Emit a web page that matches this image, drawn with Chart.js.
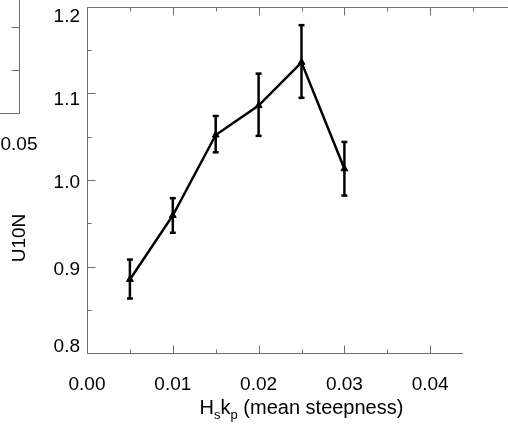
<!DOCTYPE html>
<html>
<head>
<meta charset="utf-8">
<script src="https://cdn.jsdelivr.net/npm/chart.js@4.4.1/dist/chart.umd.min.js"></script>
<style>
  html, body { margin: 0; padding: 0; background: #fff; overflow: hidden; }
  #wrap { position: relative; width: 508px; height: 431px; overflow: hidden; background: #fff; }
  #left { position: absolute; left: -497px; top: -67px; }
  #main { position: absolute; left: 0; top: 0; }
  #cover { position: absolute; left: 463px; top: 16px; width: 60px; height: 430px; background: #fff; }
</style>
</head>
<body>
<div id="wrap">
  <canvas id="left" width="560" height="258"></canvas>
  <canvas id="main" width="560" height="431"></canvas>
  <div id="cover"></div>
</div>
<script>
// ---- data ----
const steepness = [0.005, 0.010, 0.015, 0.020, 0.025, 0.030];
const u10n      = [0.885, 0.959, 1.052, 1.086, 1.136, 1.013];
const errLow    = [0.863, 0.939, 1.032, 1.051, 1.095, 0.982];
const errHigh   = [0.908, 0.979, 1.074, 1.123, 1.179, 1.044];
const xTickValues = [0.00, 0.01, 0.02, 0.03, 0.04, 0.05];
const yTickValues = [0.8, 0.9, 1.0, 1.1, 1.2];

const FONT = "'Liberation Sans', Arial, Helvetica, sans-serif";
const AXIS_COLOR = '#6e6e6e';
// vertical nudges of the y tick labels, as placed in the original figure
const yLabelNudge = [-6, 3, 3, 6, 10];

Chart.defaults.font.family = FONT;
Chart.defaults.color = '#000';

function line(ctx, x1, y1, x2, y2) {
  ctx.beginPath(); ctx.moveTo(x1, y1); ctx.lineTo(x2, y2); ctx.stroke();
}

const framePlugin = {
  id: 'frame',
  afterDraw(chart, args, o) {
    const ctx = chart.ctx, a = chart.chartArea;
    const xs = chart.scales.x, ys = chart.scales.y;
    ctx.save();
    ctx.strokeStyle = AXIS_COLOR;
    ctx.lineWidth = 1;
    const L = Math.round(a.left) + 0.5, R = Math.round(a.right) + 0.5;
    const T = Math.round(a.top) + 0.5, B = Math.round(a.bottom) + 0.5;
    ctx.beginPath(); ctx.rect(L, T, R - L, B - T); ctx.stroke();
    const nx = Math.round((xs.max - xs.min) / o.xMinor);
    for (let i = 0; i <= nx; i++) {
      const px = Math.round(xs.getPixelForValue(xs.min + i * o.xMinor)) + 0.5;
      const len = (i % o.xMajorEvery === 0) ? o.majorLen : o.minorLen;
      line(ctx, px, B, px, B - len);
      line(ctx, px, T, px, T + len);
    }
    const ny = Math.round((ys.max - ys.min) / o.yMinor);
    for (let i = 0; i <= ny; i++) {
      const py = Math.round(ys.getPixelForValue(ys.min + i * o.yMinor)) + 0.5;
      const len = (i % o.yMajorEvery === 0) ? o.majorLen : o.minorLen;
      line(ctx, L, py, L + len, py);
      line(ctx, R, py, R - len, py);
    }
    // y tick labels (drawn here so each can carry its own small nudge)
    if (o.yLabels) {
      ctx.fillStyle = '#000';
      ctx.font = '19px ' + FONT;
      ctx.textAlign = 'right';
      ctx.textBaseline = 'middle';
      o.yLabels.forEach((v, i) => {
        const py = ys.getPixelForValue(v) + (o.yNudge ? o.yNudge[i] : 0);
        ctx.fillText(v.toFixed(o.yDigits), a.left - 7, py);
      });
    }
    ctx.restore();
  }
};

const errorBarPlugin = {
  id: 'errbars',
  afterDatasetsDraw(chart) {
    const ctx = chart.ctx, xs = chart.scales.x, ys = chart.scales.y;
    ctx.save();
    ctx.strokeStyle = '#000';
    ctx.lineWidth = 2.5;
    for (let i = 0; i < steepness.length; i++) {
      const px = xs.getPixelForValue(steepness[i]);
      const y1 = ys.getPixelForValue(errLow[i]);
      const y2 = ys.getPixelForValue(errHigh[i]);
      line(ctx, px, y1, px, y2);
      line(ctx, px - 3, y1, px + 3, y1);
      line(ctx, px - 3, y2, px + 3, y2);
    }
    ctx.restore();
  }
};

const titlesPlugin = {
  id: 'titles',
  afterDraw(chart) {
    const ctx = chart.ctx, a = chart.chartArea;
    ctx.save();
    ctx.fillStyle = '#000';
    // x-axis title with subscripts: H_s k_p (mean steepness)
    const big = '20px ' + FONT, small = '13px ' + FONT;
    const parts = [['H', big, 0], ['s', small, 5], ['k', big, 0], ['p', small, 5], [' (mean steepness)', big, 0]];
    let total = 0;
    parts.forEach(p => { ctx.font = p[1]; total += ctx.measureText(p[0]).width; });
    let x = (a.left + a.right) / 2 - total / 2;
    const base = a.bottom + 61;
    ctx.textBaseline = 'alphabetic';
    ctx.textAlign = 'left';
    parts.forEach(p => { ctx.font = p[1]; ctx.fillText(p[0], x, base + p[2]); x += ctx.measureText(p[0]).width; });
    // y-axis title
    ctx.font = '19px ' + FONT;
    ctx.translate(a.left - 67, a.top + 231);
    ctx.rotate(-Math.PI / 2);
    ctx.textAlign = 'center';
    ctx.textBaseline = 'middle';
    ctx.fillText('U10N', 0, 0);
    ctx.restore();
  }
};

function tickCfg(digits, pad, show) {
  return {
    display: show,
    padding: pad,
    font: { size: 19, family: FONT },
    color: '#000',
    autoSkip: false,
    maxRotation: 0,
    callback: v => v.toFixed(digits)
  };
}

function fixX(s) { s.height = 78; s.paddingLeft = 0; s.paddingRight = 0; }
function fixY(s) { s.width = 87; s.paddingTop = 0; s.paddingBottom = 0; }

// ---- main chart ----
new Chart(document.getElementById('main'), {
  type: 'line',
  data: {
    datasets: [{
      data: steepness.map((s, i) => ({ x: s, y: u10n[i] })),
      borderColor: '#000',
      backgroundColor: '#000',
      borderWidth: 2.5,
      pointStyle: 'triangle',
      pointRadius: 4,
      pointBorderWidth: 1,
      tension: 0
    }]
  },
  options: {
    responsive: false,
    animation: false,
    devicePixelRatio: 1,
    layout: { padding: { left: 0, top: 7, right: 44, bottom: 0 } },
    plugins: {
      legend: { display: false },
      tooltip: { enabled: false },
      frame: { xMinor: 0.005, xMajorEvery: 2, yMinor: 0.05, yMajorEvery: 2, majorLen: 8, minorLen: 4,
               yLabels: yTickValues, yNudge: yLabelNudge, yDigits: 1 }
    },
    scales: {
      x: {
        type: 'linear', min: 0, max: 0.05,
        afterBuildTicks: s => { s.ticks = xTickValues.map(v => ({ value: v })); },
        afterFit: fixX,
        grid: { display: false, drawTicks: false },
        border: { display: false },
        ticks: tickCfg(2, 20, true)
      },
      y: {
        type: 'linear', min: 0.8, max: 1.2,
        afterBuildTicks: s => { s.ticks = yTickValues.map(v => ({ value: v })); },
        afterFit: fixY,
        grid: { display: false, drawTicks: false },
        border: { display: false },
        ticks: tickCfg(1, 7, false)
      }
    }
  },
  plugins: [framePlugin, errorBarPlugin, titlesPlugin]
});

// ---- neighbouring panel (only its lower-right corner is visible) ----
const leftYTickValues = [0, 1, 2, 3, 4];
new Chart(document.getElementById('left'), {
  type: 'line',
  data: { datasets: [] },
  options: {
    responsive: false,
    animation: false,
    devicePixelRatio: 1,
    layout: { padding: { left: 0, top: 7, right: 44, bottom: 0 } },
    plugins: {
      legend: { display: false },
      tooltip: { enabled: false },
      frame: { xMinor: 0.005, xMajorEvery: 2, yMinor: 1, yMajorEvery: 1, majorLen: 8, minorLen: 4 }
    },
    scales: {
      x: {
        type: 'linear', min: 0, max: 0.05,
        afterBuildTicks: s => { s.ticks = xTickValues.map(v => ({ value: v })); },
        afterFit: fixX,
        grid: { display: false, drawTicks: false },
        border: { display: false },
        ticks: tickCfg(2, 20, true)
      },
      y: {
        type: 'linear', min: 0, max: 4,
        afterBuildTicks: s => { s.ticks = leftYTickValues.map(v => ({ value: v })); },
        afterFit: fixY,
        grid: { display: false, drawTicks: false },
        border: { display: false },
        ticks: tickCfg(0, 7, false)
      }
    }
  },
  plugins: [framePlugin]
});
</script>
</body>
</html>
